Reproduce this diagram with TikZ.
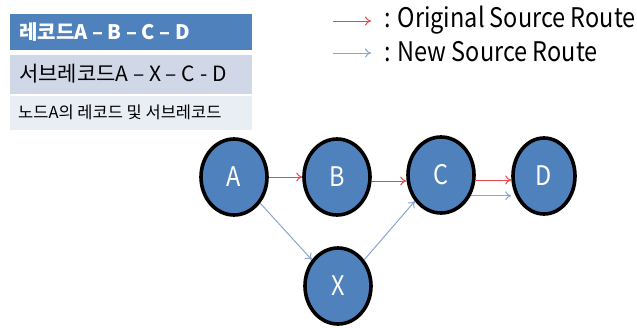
\documentclass[tikz,border=0pt]{standalone}
\usepackage{fontspec}
\setmainfont{Noto Sans CJK KR}
\usetikzlibrary{shapes.geometric,arrows.meta}
\definecolor{nodeblue}{HTML}{4F81BD}
\definecolor{rowdark}{HTML}{4F81BD}
\definecolor{rowmid}{HTML}{D0D8E8}
\definecolor{rowlight}{HTML}{E9EDF4}
\definecolor{redline}{HTML}{E8464A}
\definecolor{blueline}{HTML}{8AA5D2}
\tikzset{
  netnode/.style={ellipse, fill=nodeblue, minimum width=66pt, minimum height=76pt, inner sep=0pt, text=white, font=\fontsize{27}{27}\selectfont, draw=black, line width=3.6pt},
  redarr/.style={draw=redline, line width=1pt, -{To[length=6pt,width=9pt]}},
  bluearr/.style={draw=blueline, line width=1pt, -{To[length=6pt,width=9pt]}},
  rowtext/.style={anchor=west, inner sep=0pt}
}
\newcommand{\hsq}[1]{\scalebox{0.87}[1]{#1}}
\begin{document}
\begin{tikzpicture}[x=1pt,y=-1pt]
\useasboundingbox (0,0) rectangle (637,327);
% table
\fill[rowdark] (10,14) rectangle (252,50);
\fill[rowmid] (10,55) rectangle (252,94);
\fill[rowlight] (10,96) rectangle (252,130);
\node[rowtext, text=white, font=\fontsize{20}{20}\selectfont\bfseries] (r1) at (19,32) {레코드A – B – C – D};
\node[rowtext, font=\fontsize{21}{21}\selectfont] (r2) at (19,74) {서브레코드A – X – C - D};
\node[rowtext, font=\fontsize{16.5}{16.5}\selectfont] (r3) at (18,112) {노드A의 레코드 및 서브레코드};
% legend
\coordinate (l1s) at (333,21);
\coordinate (l1e) at (371,21);
\coordinate (l2s) at (333,53);
\coordinate (l2e) at (371,53);
\draw[redarr] (l1s) -- (l1e);
\draw[bluearr] (l2s) -- (l2e);
\node[rowtext, font=\fontsize{27}{27}\selectfont] (t1) at (384,20) {\hsq{: Original Source Route}};
\node[rowtext, font=\fontsize{27}{27}\selectfont] (t2) at (384,52) {\hsq{: New Source Route}};
% nodes
\node[netnode] (A) at (234,177) {\hsq{A}};
\node[netnode] (B) at (337,177) {\hsq{B}};
\node[netnode] (C) at (441,175) {\hsq{C}};
\node[netnode, minimum width=62pt] (D) at (544,176) {\hsq{D}};
\node[netnode] (X) at (338,286) {\hsq{X}};
% red route
\draw[redarr] (A.east) -- (B.west);
\draw[redarr] (B.east |- 0,181) -- (C.west |- 0,181);
\draw[redarr] (C.east |- 0,180) -- (D.west |- 0,180);
% blue route
\draw[bluearr] (A.-45) -- (X.135);
\draw[bluearr] (X.45) -- (C.-135);
\draw[bluearr] (C.-35) -- (C.-35 -| D.west);
\end{tikzpicture}
\end{document}
